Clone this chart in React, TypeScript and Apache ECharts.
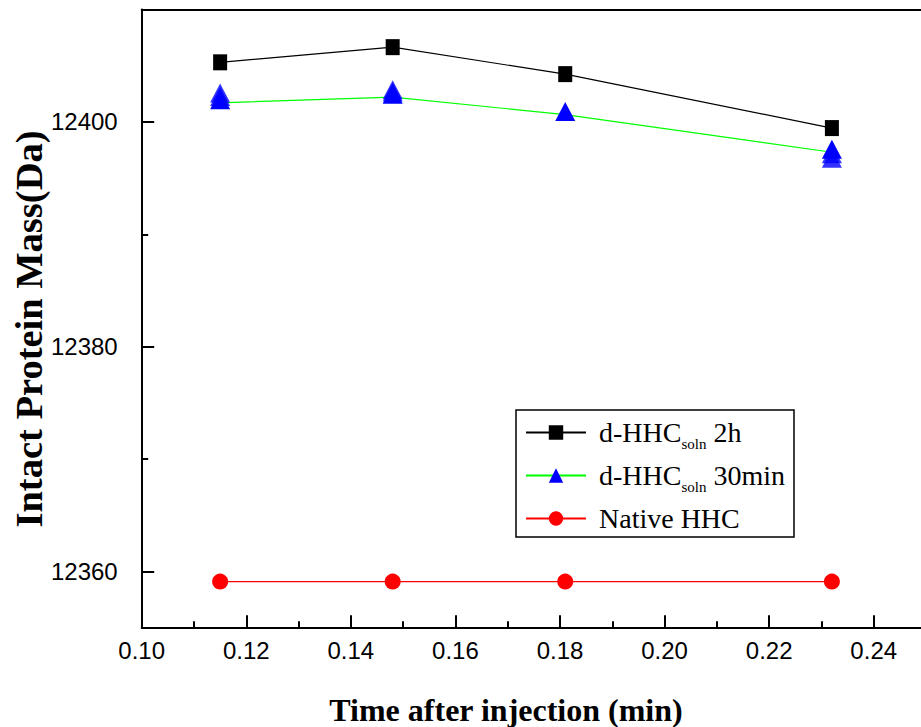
import React, { useEffect, useRef } from "react";
import * as echarts from "echarts";

const times = [0.115, 0.148, 0.181, 0.232];
const hhc2h = [12405.3, 12406.65, 12404.25, 12399.45];
const hhc30 = [12401.7, 12402.2, 12400.65, 12397.3];
// additional overlapping replicate triangles seen at some time points
const hhc30RepTimes = [0.115, 0.115, 0.148, 0.148, 0.232, 0.232];
const hhc30RepValues = [12402.3, 12402.0, 12402.6, 12402.4, 12396.9, 12396.5];
const native = [12359.1, 12359.1, 12359.1, 12359.1];

const yMajorTicks = [12360, 12380, 12400];
const yMinorTicks = [12370, 12390];
const xTitle = "Time after injection (min)";
const yTitle = "Intact Protein Mass(Da)";
const names = ["d-HHC soln 2h", "d-HHC soln 30min", "Native HHC"];

const serif = "'Liberation Serif', 'Times New Roman', serif";
const sans = "'Liberation Sans', Arial, sans-serif";

export default function App() {
  const ref = useRef<HTMLDivElement>(null);
  useEffect(() => {
    if (!ref.current) return;
    const chart = echarts.init(ref.current, undefined, { renderer: "svg" });
    const pair = (xs: number[], ys: number[]) => xs.map((x, i) => [x, ys[i]]);
    const axisLine = { show: true, lineStyle: { color: "#000", width: 2 } };
    chart.setOption({
      animation: false,
      grid: { left: 141.7, top: 9.5, width: 836.6, height: 618.2, outerBoundsMode: "none", containLabel: false },
      xAxis: [
        {
          type: "value",
          min: 0.1,
          max: 0.26,
          interval: 0.02,
          axisLine: { ...axisLine, onZero: false },
          axisTick: { show: true, inside: true, length: 12.5, lineStyle: { color: "#000", width: 2 } },
          minorTick: { show: true, splitNumber: 2, length: 6.5, lineStyle: { color: "#000", width: 2 } },
          splitLine: { show: false },
          axisLabel: {
            margin: 11,
            fontFamily: sans,
            fontSize: 24,
            color: "#000",
            formatter: (v: number) => (v > 0.245 ? "" : v.toFixed(2)),
          },
        },
        {
          type: "value",
          position: "top",
          min: 0.1,
          max: 0.26,
          axisLine: { ...axisLine, onZero: false },
          axisTick: { show: false },
          axisLabel: { show: false },
          splitLine: { show: false },
        },
      ],
      yAxis: [
        {
          type: "value",
          min: 12355,
          max: 12410,
          axisLine: { ...axisLine, onZero: false },
          axisTick: { show: true, inside: true, length: 12.5, customValues: yMajorTicks, lineStyle: { color: "#000", width: 2 } },
          splitLine: { show: false },
          axisLabel: {
            customValues: yMajorTicks,
            margin: 24,
            fontFamily: sans,
            fontSize: 24,
            color: "#000",
            formatter: (v: number) => String(Math.round(v)),
          },
        },
        {
          type: "value",
          position: "left",
          min: 12355,
          max: 12410,
          axisLine: { show: false },
          axisTick: { show: true, inside: true, length: 6.5, customValues: yMinorTicks, lineStyle: { color: "#000", width: 2 } },
          axisLabel: { show: false },
          splitLine: { show: false },
        },
      ],
      legend: {
        data: names,
        orient: "vertical",
        left: 516,
        top: 410,
        padding: [4, 9, 0, 9],
        itemGap: 6,
        itemWidth: 60,
        itemHeight: 18,
        borderColor: "#000",
        borderWidth: 1.5,
        formatter: (name: string) =>
          name === "Native HHC"
            ? "{g| }{m|Native HHC}{s| }"
            : `{g| }{m|d-HHC}{s|soln}{m| ${name.split(" ")[2]}}`,
        textStyle: {
          fontFamily: serif,
          fontSize: 28,
          color: "#000",
          rich: {
            g: { width: 8, fontSize: 28, lineHeight: 38 },
            m: { fontFamily: serif, fontSize: 28, lineHeight: 38, color: "#000" },
            s: { fontFamily: serif, fontSize: 15, lineHeight: 8, padding: [22, 0, 0, 0], color: "#000" },
          },
        },
      },
      graphic: [
        {
          type: "text",
          x: 506,
          y: 710,
          style: {
            text: xTitle,
            fontFamily: serif,
            fontWeight: "bold",
            fontSize: 32,
            fill: "#000",
            align: "center",
            verticalAlign: "middle",
          },
        },
        {
          type: "text",
          x: 29,
          y: 329,
          rotation: Math.PI / 2,
          style: {
            text: yTitle,
            fontFamily: serif,
            fontWeight: "bold",
            fontSize: 38.5,
            fill: "#000",
            align: "center",
            verticalAlign: "middle",
          },
        },
      ],
      series: [
        {
          name: names[0],
          type: "line",
          data: pair(times, hhc2h),
          symbol: "rect",
          symbolSize: [14, 16],
          lineStyle: { color: "#000", width: 1.2 },
          itemStyle: { color: "#000" },
          z: 3,
        },
        {
          name: names[1],
          type: "line",
          data: pair(times, hhc30),
          symbol: "triangle",
          symbolSize: [20, 19],
          symbolOffset: [0, -3],
          lineStyle: { color: "#00ff00", width: 1.2 },
          itemStyle: { color: "#0000ff" },
          z: 3,
        },
        {
          name: "replicates",
          type: "scatter",
          data: pair(hhc30RepTimes, hhc30RepValues),
          symbol: "triangle",
          symbolSize: [20, 19],
          symbolOffset: [0, -3],
          itemStyle: { color: "#0000ff" },
          z: 4,
        },
        {
          name: names[2],
          type: "line",
          data: pair(times, native),
          symbol: "circle",
          symbolSize: 16,
          lineStyle: { color: "#ff0000", width: 1.2 },
          itemStyle: { color: "#ff0000" },
          z: 3,
        },
      ],
    });
    return () => chart.dispose();
  }, []);
  return (
    <div
      ref={ref}
      style={{ position: "absolute", left: 0, top: 0, width: 921, height: 727, background: "#fff" }}
    />
  );
}
